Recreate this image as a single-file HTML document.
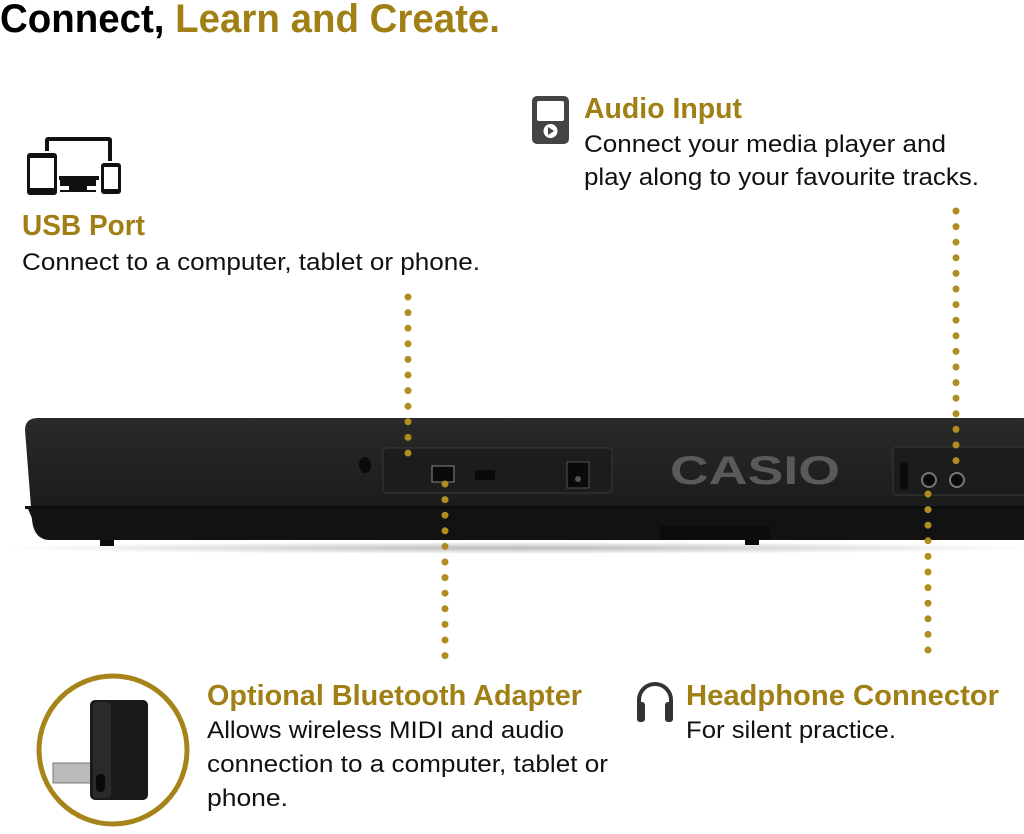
<!DOCTYPE html>
<html><head><meta charset="utf-8"><style>
html,body{margin:0;padding:0;background:#fff;width:1024px;height:834px;overflow:hidden}
svg{display:block}
text{font-family:"Liberation Sans",sans-serif}
.h{font-weight:bold;fill:#a07f14;font-size:29px}
.b{fill:#111;font-size:24px}
</style></head><body>
<svg width="1024" height="834" viewBox="0 0 1024 834">
<defs>
<linearGradient id="kb" x1="0" y1="0" x2="0" y2="1">
<stop offset="0" stop-color="#2a2a2a"/><stop offset="1" stop-color="#161616"/>
</linearGradient>
<radialGradient id="sh" cx="0.5" cy="0.5" r="0.5"><stop offset="0" stop-color="#bbb"/><stop offset="1" stop-color="#fff"/></radialGradient>
</defs>
<text x="0" y="32" font-size="40" font-weight="bold" textLength="500" lengthAdjust="spacingAndGlyphs"><tspan fill="#000">Connect, </tspan><tspan fill="#a07f14">Learn and Create.</tspan></text>

<!-- USB icon -->
<rect x="45" y="137" width="67" height="43" rx="3" fill="#111"/>
<rect x="49" y="141" width="59" height="35" fill="#fff"/>
<rect x="60" y="180" width="36" height="6" fill="#111"/>
<rect x="69" y="186" width="18" height="5" fill="#111"/>
<rect x="60" y="190" width="36" height="2" fill="#111"/>
<rect x="25" y="151" width="34" height="46" rx="4" fill="#fff"/>
<rect x="27" y="153" width="30" height="42" rx="3" fill="#111"/>
<rect x="30" y="158" width="24" height="30" fill="#fff"/>
<rect x="99" y="161" width="24" height="35" rx="4" fill="#fff"/>
<rect x="101" y="163" width="20" height="31" rx="3" fill="#111"/>
<rect x="104" y="167" width="14" height="22" fill="#fff"/>

<text class="h" x="22" y="235" textLength="123" lengthAdjust="spacingAndGlyphs">USB Port</text>
<text class="b" x="22" y="270" textLength="458" lengthAdjust="spacingAndGlyphs">Connect to a computer, tablet or phone.</text>

<rect x="532" y="96" width="37" height="48" rx="5" fill="#444"/>
<rect x="537" y="101" width="27" height="20" rx="2" fill="#fff"/>
<circle cx="550.5" cy="131" r="7" fill="#fff"/>
<polygon points="548,127 548,135 554,131" fill="#444"/>
<text class="h" x="584" y="118" textLength="158" lengthAdjust="spacingAndGlyphs">Audio Input</text>
<text class="b" x="584" y="152" textLength="362" lengthAdjust="spacingAndGlyphs">Connect your media player and</text>
<text class="b" x="584" y="185" textLength="395" lengthAdjust="spacingAndGlyphs">play along to your favourite tracks.</text>

<ellipse cx="520" cy="548" rx="520" ry="6" fill="url(#sh)"/>
<path d="M38 418 H1024 V540 H50 Q34 540 32 520 L25 430 Q25 418 38 418Z" fill="url(#kb)"/>
<rect x="25" y="506" width="999" height="3" fill="#0c0c0c"/>
<path d="M28 509 H1024 V540 H50 Q38 538 35 525Z" fill="#121212"/>
<rect x="100" y="540" width="14" height="6" fill="#0a0a0a"/>
<rect x="745" y="540" width="14" height="5" fill="#0a0a0a"/>
<rect x="660" y="526" width="110" height="14" fill="#0c0c0c"/>
<ellipse cx="365" cy="465" rx="6" ry="8" fill="#0a0a0a"/>
<rect x="383" y="448" width="229" height="45" rx="4" fill="#1c1c1c" stroke="#3a3a3a" stroke-width="1"/>
<rect x="432" y="466" width="22" height="16" fill="#0a0a0a" stroke="#888" stroke-width="1"/>
<rect x="475" y="470" width="20" height="10" fill="#0a0a0a"/>
<rect x="567" y="462" width="22" height="26" fill="#0a0a0a" stroke="#555"/>
<circle cx="578" cy="479" r="3" fill="#555"/>
<text x="670" y="484" font-size="40" font-weight="bold" fill="#5a5a5a" textLength="170" lengthAdjust="spacingAndGlyphs">CASIO</text>
<rect x="893" y="447" width="140" height="48" rx="4" fill="#1c1c1c" stroke="#3a3a3a"/>
<rect x="900" y="462" width="8" height="28" rx="3" fill="#0a0a0a"/>
<circle cx="929" cy="480" r="7" fill="#0a0a0a" stroke="#777" stroke-width="2"/>
<circle cx="957" cy="480" r="7" fill="#0a0a0a" stroke="#777" stroke-width="2"/>

<g stroke="#b08d1f" stroke-width="7" stroke-linecap="round" stroke-dasharray="0 15.6" fill="none">
<line x1="408" y1="297" x2="408" y2="465"/>
<line x1="445" y1="484" x2="445" y2="660"/>
<line x1="956" y1="211" x2="956" y2="462"/>
<line x1="928" y1="494" x2="928" y2="660"/>
</g>

<circle cx="113" cy="750" r="74" fill="#fff" stroke="#a6841a" stroke-width="5"/>
<rect x="53" y="763" width="40" height="20" fill="#bbb" stroke="#777"/>
<rect x="90" y="700" width="58" height="100" rx="5" fill="#1a1a1a"/>
<rect x="93" y="702" width="18" height="96" rx="4" fill="#2a2a2a"/>
<rect x="96" y="774" width="9" height="18" rx="4" fill="#0a0a0a"/>
<text class="h" x="207" y="705" textLength="375" lengthAdjust="spacingAndGlyphs">Optional Bluetooth Adapter</text>
<text class="b" x="207" y="738" textLength="357" lengthAdjust="spacingAndGlyphs">Allows wireless MIDI and audio</text>
<text class="b" x="207" y="772" textLength="401" lengthAdjust="spacingAndGlyphs">connection to a computer, tablet or</text>
<text class="b" x="207" y="806" textLength="81" lengthAdjust="spacingAndGlyphs">phone.</text>

<path d="M639 710 V700 A16 16 0 0 1 671 700 V710" fill="none" stroke="#333" stroke-width="4"/>
<rect x="637" y="702" width="8" height="20" rx="3" fill="#333"/>
<rect x="665" y="702" width="8" height="20" rx="3" fill="#333"/>
<text class="h" x="686" y="705" textLength="313" lengthAdjust="spacingAndGlyphs">Headphone Connector</text>
<text class="b" x="686" y="738" textLength="210" lengthAdjust="spacingAndGlyphs">For silent practice.</text>
</svg>
</body></html>
